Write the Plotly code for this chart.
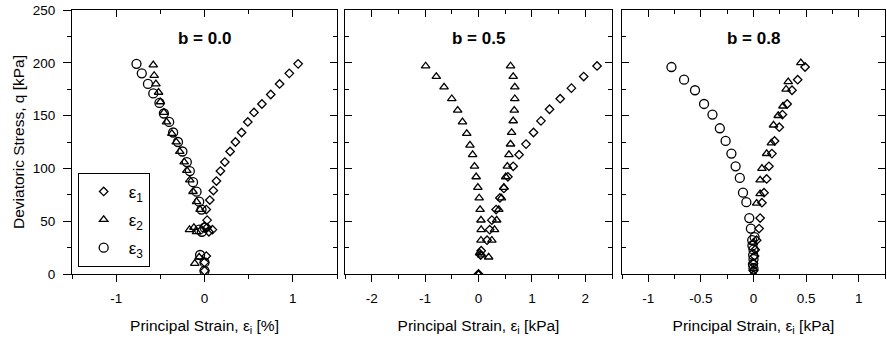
import plotly.graph_objects as go

# ---- data: b = 0.0 (strain in %) ----
b00_e1_x = [0.0, 0.0, 0.02, 0.05, 0.09, 0.03, 0.0, 0.03, 0.02, 0.06, 0.10, 0.135, 0.18, 0.23, 0.29, 0.35, 0.42, 0.49, 0.56, 0.65, 0.75, 0.85, 0.96, 1.06]
b00_e1_q = [3, 11, 17, 40, 42, 44, 45, 51, 61, 70, 79, 88, 97.5, 106, 116, 125, 134, 144, 153, 161, 170, 180, 190, 199]
b00_e2_x = [-0.11, -0.06, -0.09, -0.17, -0.12, -0.05, -0.09, -0.13, -0.166, -0.2, -0.23, -0.28, -0.32, -0.37, -0.43, -0.46, -0.5, -0.52, -0.55, -0.57, -0.58]
b00_e2_q = [10, 16, 40, 42, 44, 61, 68.5, 78, 89, 98, 106, 116, 125, 133, 144, 153, 163, 172, 180, 188, 198]
b00_e3_x = [0.0, 0.0, -0.05, -0.03, -0.06, 0.0, -0.034, -0.06, -0.09, -0.13, -0.166, -0.2, -0.25, -0.3, -0.355, -0.4, -0.46, -0.51, -0.58, -0.64, -0.71, -0.77]
b00_e3_q = [3, 11, 18, 40, 42, 44, 61, 68.5, 78, 87, 97.5, 106, 116, 125, 134, 144, 152, 162, 171, 180, 190, 199]

# ---- data: b = 0.5 ----
b05_e1_x = [0, 0.04, 0.05, 0.16, 0.21, 0.25, 0.33, 0.40, 0.475, 0.55, 0.65, 0.76, 0.89, 1.03, 1.17, 1.33, 1.53, 1.74, 1.97, 2.22]
b05_e1_q = [0, 18, 22, 32, 42, 51, 61, 72, 81, 92, 102, 113, 123, 134, 145, 156, 166, 176, 187, 197]
b05_e2_x = [0, 0.19, 0.25, 0.30, 0.34, 0.38, 0.43, 0.475, 0.51, 0.54, 0.57, 0.60, 0.62, 0.65, 0.67, 0.68, 0.68, 0.65, 0.60]
b05_e2_q = [0, 16, 32, 42, 51, 61, 72, 82, 92, 102, 113, 123, 134, 145, 155, 166, 177, 187, 197]
b05_e3_x = [0, 0.06, 0.02, 0.046, 0.05, 0.046, 0.03, 0.013, -0.012, -0.044, -0.075, -0.11, -0.16, -0.22, -0.30, -0.39, -0.50, -0.645, -0.79, -0.99]
b05_e3_q = [0, 18, 20, 32, 42, 51, 61, 72, 82, 92, 102, 113, 122, 133, 144, 155, 166, 177, 187, 197]

# ---- data: b = 0.8 ----
b08_e1_x = [0.0, 0.0, 0.01, 0.016, 0.03, 0.053, 0.063, 0.08, 0.10, 0.125, 0.147, 0.175, 0.20, 0.245, 0.275, 0.32, 0.366, 0.42, 0.49]
b08_e1_q = [3, 10, 17, 23, 32, 43, 53, 67.5, 77, 90, 102, 114, 126, 139, 151, 161, 174, 184, 196]
b08_e2_x = [0, 0.0, 0.0, 0.03, 0.063, 0.063, 0.08, 0.125, 0.17, 0.19, 0.235, 0.28, 0.31, 0.33, 0.45]
b08_e2_q = [0, 5, 30, 67, 76, 89, 100, 114, 124, 141, 150, 159, 175, 182, 200]
b08_e3_x = [0.0, -0.005, 0.0, -0.003, 0.0, -0.01, -0.012, 0.01, -0.025, -0.04, -0.068, -0.10, -0.13, -0.17, -0.21, -0.265, -0.32, -0.39, -0.47, -0.556, -0.66, -0.78]
b08_e3_q = [5, 9, 14, 18, 23, 27, 32, 35, 43, 53, 68, 77, 91, 102, 114, 126, 138, 151, 161, 174, 184, 196]

panel_titles = ["b = 0.0", "b = 0.5", "b = 0.8"]
x_titles = ["Principal Strain, ε<sub>i</sub> [%]",
            "Principal Strain, ε<sub>i</sub> [kPa]",
            "Principal Strain, ε<sub>i</sub> [kPa]"]
y_title = "Deviatoric Stress, q [kPa]"
legend_names = ["ε<sub>1</sub>", "ε<sub>2</sub>", "ε<sub>3</sub>"]
x_tickvals = [[-1, 0, 1], [-2, -1, 0, 1, 2], [-1, -0.5, 0, 0.5, 1]]
x_ticktext = [["-1", "0", "1"], ["-2", "-1", "0", "1", "2"], ["-1", "-0.5", "0", "0.5", "1"]]
y_tickvals = [0, 50, 100, 150, 200, 250]
y_ticktext = ["0", "50", "100", "150", "200", "250"]

FONT = "Liberation Sans, Arial, sans-serif"
BLACK = "#000000"

fig = go.Figure()

def add(xs, qs, symbol, size, xa, ya, name=None, show=False, group=None):
    fig.add_trace(go.Scatter(
        x=xs, y=qs, mode="markers", xaxis=xa, yaxis=ya,
        name=name, showlegend=show, legendgroup=group,
        marker=dict(symbol=symbol, size=size, color=BLACK,
                    line=dict(color=BLACK, width=1.3)),
        hoverinfo="skip"))

DIA, TRI, CIR = "diamond-open", "triangle-up-open", "circle-open"
DS, TS, CS = 6.5, 7.5, 9

# panel 1
add(b00_e1_x, b00_e1_q, DIA, DS, "x", "y", legend_names[0], True, "g1")
add(b00_e2_x, b00_e2_q, TRI, TS, "x", "y", legend_names[1], True, "g2")
add(b00_e3_x, b00_e3_q, CIR, CS, "x", "y", legend_names[2], True, "g3")
# panel 2 (the third principal strain is drawn with triangles in the original)
add(b05_e1_x, b05_e1_q, DIA, DS, "x2", "y2")
add(b05_e2_x, b05_e2_q, TRI, TS, "x2", "y2")
add(b05_e3_x, b05_e3_q, TRI, TS, "x2", "y2")
# panel 3
add(b08_e1_x, b08_e1_q, DIA, DS, "x3", "y3")
add(b08_e2_x, b08_e2_q, TRI, TS, "x3", "y3")
add(b08_e3_x, b08_e3_q, CIR, CS, "x3", "y3")

# empty traces bound to the mirror (top / right) axes so they are drawn
for i in range(3):
    fig.add_trace(go.Scatter(x=[], y=[], xaxis=f"x{4+i}", yaxis="y" if i == 0 else f"y{1+i}",
                             showlegend=False, hoverinfo="skip"))
    fig.add_trace(go.Scatter(x=[], y=[], xaxis="x" if i == 0 else f"x{1+i}", yaxis=f"y{4+i}",
                             showlegend=False, hoverinfo="skip"))

W, H = 887, 346
ML, MR, MT, MB = 72, 2, 10, 72
PW = W - ML - MR
domains = [[0, 265 / PW], [273 / PW, 540 / PW], [550 / PW, 1.0]]
xranges = [[-1.5, 1.5], [-2.5, 2.5], [-1.25, 1.25]]
xminor = [0.5, 0.5, 0.25]
tickfont = dict(family=FONT, size=13.5, color=BLACK)
titlefont = dict(family=FONT, size=15.5, color=BLACK)

layout = dict(
    width=W, height=H,
    margin=dict(l=ML, r=MR, t=MT, b=MB, pad=0, autoexpand=False),
    paper_bgcolor="white", plot_bgcolor="white",
    showlegend=True,
    font=dict(family=FONT, color=BLACK),
)

for i in range(3):
    sx = "" if i == 0 else str(i + 1)
    sy = "" if i == 0 else str(i + 1)
    layout[f"xaxis{sx}"] = dict(
        domain=domains[i], range=xranges[i], anchor=f"y{sy}", automargin=False,
        showgrid=False, zeroline=False, showline=True, linecolor=BLACK, linewidth=1,
        ticks="outside", ticklen=7, tickwidth=1, tickcolor=BLACK,
        tickvals=x_tickvals[i], ticktext=x_ticktext[i], tickfont=tickfont,
        ticklabelstandoff=5,
        minor=dict(dtick=xminor[i], tick0=0, ticks="outside", ticklen=4, tickwidth=1, tickcolor=BLACK, showgrid=False),
        title=dict(text=x_titles[i], font=titlefont, standoff=14),
        fixedrange=True,
    )
    layout[f"yaxis{sy}"] = dict(
        domain=[0, 1], range=[0, 250], anchor=f"x{sx}", automargin=False,
        showgrid=False, zeroline=False, showline=True, linecolor=BLACK, linewidth=1,
        ticks="outside" if i == 0 else "inside", ticklen=8 if i == 0 else 7,
        tickwidth=1, tickcolor=BLACK,
        tickvals=y_tickvals, ticktext=y_ticktext, tickfont=tickfont, showticklabels=(i == 0),
        ticklabelstandoff=5,
        minor=dict(dtick=25, tick0=0, ticks="outside" if i == 0 else "inside", ticklen=4,
                   tickwidth=1, tickcolor=BLACK, showgrid=False),
        title=dict(text=y_title if i == 0 else "", font=titlefont, standoff=4),
        fixedrange=True,
    )
    # top mirror axis (inside ticks)
    layout[f"xaxis{4+i}"] = dict(
        overlaying=f"x{sx}", side="top", anchor=f"y{sy}", range=xranges[i], automargin=False,
        showgrid=False, zeroline=False, showline=True, linecolor=BLACK, linewidth=1,
        ticks="inside", ticklen=7, tickwidth=1, tickcolor=BLACK,
        tickvals=x_tickvals[i], showticklabels=False,
        minor=dict(dtick=xminor[i], tick0=0, ticks="inside", ticklen=4, tickwidth=1, tickcolor=BLACK, showgrid=False),
        fixedrange=True,
    )
    # right mirror axis (inside ticks)
    layout[f"yaxis{4+i}"] = dict(
        overlaying=f"y{sy}", side="right", anchor=f"x{sx}", range=[0, 250], automargin=False,
        showgrid=False, zeroline=False, showline=True, linecolor=BLACK, linewidth=1,
        ticks="inside", ticklen=7, tickwidth=1, tickcolor=BLACK,
        tickvals=y_tickvals, showticklabels=False,
        minor=dict(dtick=25, tick0=0, ticks="inside", ticklen=4, tickwidth=1, tickcolor=BLACK, showgrid=False),
        fixedrange=True,
    )

layout["legend"] = dict(
    x=0.007, y=0.383, xanchor="left", yanchor="top",
    bgcolor="white", bordercolor=BLACK, borderwidth=1,
    font=dict(family=FONT, size=17, color=BLACK),
    tracegroupgap=3, itemwidth=40,
)

annotations = []
for i in range(3):
    sx = "" if i == 0 else str(i + 1)
    annotations.append(dict(
        text=f"<b>{panel_titles[i]}</b>", x=0, y=223, xref=f"x{sx}", yref=f"y{'' if i == 0 else i + 1}",
        showarrow=False, font=dict(family=FONT, size=17, color=BLACK),
        xanchor="center", yanchor="middle"))
layout["annotations"] = annotations

fig.update_layout(**layout)
fig.write_html("out.html", config={"displayModeBar": False},
               post_script="document.body.style.margin='0';")
